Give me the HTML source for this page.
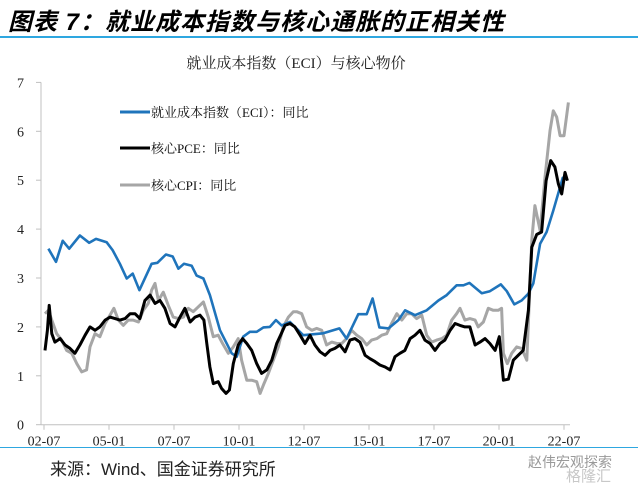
<!DOCTYPE html>
<html><head><meta charset="utf-8">
<style>
body{margin:0;background:#fff;width:638px;height:484px;overflow:hidden;position:relative;font-family:"Liberation Serif","Noto Serif CJK SC",serif;}
#hdr{position:absolute;left:8px;top:2px;font-family:"Liberation Sans","Noto Sans CJK SC",sans-serif;font-weight:bold;font-style:italic;font-size:24px;color:#000;letter-spacing:1px;white-space:nowrap;}
#hl{position:absolute;left:0;top:36px;width:638px;height:2px;background:#2ea7e0;}
#bl{position:absolute;left:0;top:447px;width:638px;height:1px;background:#2ea7e0;}
#src{position:absolute;left:50px;top:455px;font-family:"Liberation Sans","Noto Sans CJK SC",sans-serif;font-size:17px;color:#222;white-space:nowrap;}
#wm{position:absolute;left:528px;top:452px;font-family:"Liberation Sans","Noto Sans CJK SC",sans-serif;font-size:14px;color:#999;white-space:nowrap;}
#wm2{position:absolute;left:566px;top:465px;font-family:"Liberation Sans","Noto Sans CJK SC",sans-serif;font-size:15px;color:#c8c8c8;white-space:nowrap;}
svg{position:absolute;left:0;top:0;}
</style></head><body>
<div id="hdr">图表 7：就业成本指数与核心通胀的正相关性</div>
<div id="hl"></div>
<svg id="chart" width="638" height="484"></svg>
<div id="bl"></div>
<div id="src">来源：Wind、国金证券研究所</div>
<div id="wm">赵伟宏观探索</div>
<div id="wm2">格隆汇</div>
<script>
const yTicks=[0,1,2,3,4,5,6,7];
const xTickLabels=["02-07","05-01","07-07","10-01","12-07","15-01","17-07","20-01","22-07"];
const xTickDates=[2002.5,2005.0,2007.5,2010.0,2012.5,2015.0,2017.5,2020.0,2022.5];
const eciDates=[2002.67,2002.96,2003.22,2003.47,2003.88,2004.24,2004.5,2004.91,2005.14,2005.42,2005.68,2005.91,2006.17,2006.64,2006.86,2007.19,2007.45,2007.67,2007.88,2008.18,2008.37,2008.63,2008.88,2009.27,2009.72,2009.91,2010.16,2010.42,2010.68,2010.94,2011.19,2011.42,2011.64,2011.96,2012.47,2013.24,2013.86,2014.14,2014.59,2014.91,2015.14,2015.4,2015.75,2016.13,2016.39,2016.77,2017.22,2017.67,2017.99,2018.37,2018.63,2018.86,2019.34,2019.65,2020.07,2020.3,2020.59,2020.87,2021.13,2021.32,2021.58,2021.83,2022.09,2022.35,2022.45,2022.58];
const eciValues=[3.6,3.33,3.76,3.6,3.87,3.72,3.8,3.73,3.57,3.29,2.99,3.09,2.75,3.29,3.31,3.48,3.44,3.19,3.29,3.25,3.05,2.99,2.65,1.93,1.46,1.39,1.8,1.9,1.9,1.99,2.0,2.14,2.03,2.1,1.83,1.87,1.97,1.76,2.26,2.26,2.58,1.99,1.97,2.14,2.34,2.24,2.34,2.54,2.65,2.85,2.85,2.9,2.69,2.73,2.87,2.73,2.46,2.54,2.68,2.89,3.7,3.94,4.38,4.86,5.05,5.03];
const pceDates=[2002.54,2002.63,2002.7,2002.8,2002.92,2003.12,2003.31,2003.5,2003.69,2003.88,2004.08,2004.27,2004.46,2004.65,2004.85,2005.04,2005.23,2005.42,2005.62,2005.81,2006.0,2006.19,2006.38,2006.58,2006.77,2006.96,2007.15,2007.35,2007.54,2007.73,2007.92,2008.12,2008.31,2008.5,2008.65,2008.76,2008.88,2009.01,2009.2,2009.33,2009.5,2009.63,2009.78,2009.97,2010.14,2010.3,2010.49,2010.68,2010.87,2011.07,2011.26,2011.45,2011.6,2011.77,2011.96,2012.15,2012.35,2012.54,2012.73,2012.92,2013.12,2013.31,2013.5,2013.69,2013.88,2014.08,2014.27,2014.46,2014.65,2014.85,2015.04,2015.23,2015.42,2015.62,2015.81,2016.0,2016.19,2016.38,2016.58,2016.77,2016.96,2017.15,2017.35,2017.54,2017.73,2017.92,2018.12,2018.31,2018.5,2018.69,2018.88,2019.08,2019.27,2019.46,2019.65,2019.85,2020.01,2020.17,2020.36,2020.55,2020.74,2020.93,2021.13,2021.26,2021.45,2021.64,2021.81,2021.99,2022.15,2022.28,2022.41,2022.54,2022.63];
const pceValues=[1.52,1.93,2.44,1.86,1.69,1.76,1.63,1.56,1.46,1.63,1.83,2.0,1.93,2.0,2.14,2.2,2.17,2.14,2.17,2.27,2.27,2.17,2.54,2.65,2.48,2.54,2.38,2.07,2.0,2.2,2.38,2.1,2.2,2.24,2.14,1.66,1.18,0.84,0.88,0.74,0.64,0.71,1.25,1.63,1.76,1.66,1.52,1.25,1.05,1.12,1.32,1.66,1.83,2.03,2.07,2.0,1.83,1.66,1.83,1.63,1.49,1.42,1.52,1.56,1.63,1.49,1.73,1.76,1.69,1.42,1.35,1.29,1.22,1.18,1.12,1.39,1.46,1.52,1.76,1.83,1.93,1.73,1.66,1.52,1.66,1.73,1.93,2.07,2.03,2.0,2.0,1.63,1.69,1.76,1.66,1.52,1.8,0.91,0.93,1.32,1.42,1.52,2.34,3.63,3.89,3.94,4.99,5.4,5.27,4.93,4.72,5.16,4.99];
const cpiDates=[2002.54,2002.67,2002.8,2002.99,2003.18,2003.37,2003.57,2003.76,2003.95,2004.14,2004.27,2004.46,2004.65,2004.85,2005.04,2005.19,2005.36,2005.55,2005.74,2005.93,2006.13,2006.32,2006.51,2006.64,2006.77,2006.9,2007.09,2007.28,2007.47,2007.67,2007.86,2008.05,2008.24,2008.43,2008.63,2008.82,2009.01,2009.2,2009.37,2009.59,2009.78,2009.97,2010.1,2010.3,2010.49,2010.68,2010.81,2010.96,2011.13,2011.32,2011.51,2011.7,2011.9,2012.09,2012.22,2012.41,2012.6,2012.8,2012.99,2013.18,2013.37,2013.57,2013.76,2013.95,2014.14,2014.33,2014.53,2014.72,2014.91,2015.1,2015.3,2015.49,2015.68,2015.87,2016.07,2016.26,2016.45,2016.64,2016.83,2017.03,2017.22,2017.41,2017.6,2017.8,2017.99,2018.18,2018.37,2018.5,2018.69,2018.88,2019.08,2019.2,2019.4,2019.59,2019.78,2019.97,2020.1,2020.17,2020.32,2020.49,2020.68,2020.87,2021.07,2021.26,2021.38,2021.58,2021.77,2021.96,2022.09,2022.22,2022.35,2022.5,2022.67];
const cpiValues=[2.27,2.34,2.14,1.86,1.73,1.52,1.46,1.25,1.08,1.12,1.59,1.86,1.8,2.07,2.24,2.38,2.14,2.03,2.14,2.14,2.1,2.34,2.48,2.75,2.89,2.54,2.71,2.44,2.2,2.17,2.2,2.38,2.31,2.41,2.51,2.2,1.8,1.83,1.66,1.46,1.59,1.76,1.32,0.91,0.91,0.88,0.64,0.84,1.05,1.32,1.59,2.0,2.2,2.31,2.31,2.27,2.0,1.93,1.97,1.93,1.63,1.69,1.66,1.66,1.76,1.93,1.83,1.76,1.63,1.73,1.76,1.83,1.86,2.07,2.27,2.14,2.27,2.27,2.17,2.24,1.83,1.69,1.73,1.76,1.83,2.14,2.27,2.38,2.14,2.17,2.14,2.0,2.1,2.38,2.34,2.34,2.38,1.46,1.25,1.46,1.59,1.56,1.32,3.77,4.48,3.97,5.06,6.01,6.42,6.29,5.91,5.91,6.59];

const NS="http://www.w3.org/2000/svg";
const svg=document.getElementById('chart');
const X0=44,PXY=26,T0=2002.5,Y0=424.7,PXV=48.9,AXL=41,AXR=570;
function xs(t){return X0+(t-T0)*PXY;}
function ys(v){return Y0-v*PXV;}
function mk(tag,attrs){const e=document.createElementNS(NS,tag);for(const k in attrs)e.setAttribute(k,attrs[k]);svg.appendChild(e);return e;}

const title=mk('text',{x:296,y:68,'text-anchor':'middle','font-size':15,fill:'#222','font-family':'"Liberation Serif","Noto Serif CJK SC",serif'});
title.textContent='就业成本指数（ECI）与核心物价';



const ya=mk('line',{x1:AXL,y1:ys(7),x2:AXL,y2:Y0,stroke:'#c0c0c0','stroke-width':1});


yTicks.forEach(v=>{
  const tk=mk('line',{x1:AXL-5,y1:ys(v),x2:AXL,y2:ys(v),stroke:'#c0c0c0','stroke-width':1});
  
  
  const tl=mk('text',{x:24,y:ys(v)+5,'text-anchor':'end','font-size':14,fill:'#222'});
  tl.textContent=String(v);
  
  
});
const xa=mk('line',{x1:AXL,y1:Y0,x2:AXR,y2:Y0,stroke:'#c0c0c0','stroke-width':1});


xTickDates.forEach((t,i)=>{
  const tk=mk('line',{x1:xs(t),y1:Y0,x2:xs(t),y2:Y0+5,stroke:'#c0c0c0','stroke-width':1});
  
  
  const tl=mk('text',{x:xs(t),y:Y0+21,'text-anchor':'middle','font-size':14,fill:'#222'});
  tl.textContent=xTickLabels[i];
  
  
});
function series(d,v,color,w,name){
  const pts=d.map((t,i)=>xs(t).toFixed(1)+','+ys(v[i]).toFixed(1)).join(' ');
  const p=mk('polyline',{points:pts,fill:'none',stroke:color,'stroke-width':w,'stroke-linejoin':'round'});
  
  
}
series(cpiDates,cpiValues,'#a6a6a6',3,'core-cpi-line');
series(eciDates,eciValues,'#1f74bb',2.6,'eci-line');
series(pceDates,pceValues,'#000000',3,'core-pce-line');

const legend=[['#1f74bb','就业成本指数（ECI）：同比',112,'legend-eci'],['#000000','核心PCE：同比',148,'legend-core-pce'],['#a6a6a6','核心CPI：同比',185,'legend-core-cpi']];
legend.forEach(l=>{
  const ln=mk('line',{x1:120,y1:l[2],x2:150,y2:l[2],stroke:l[0],'stroke-width':3});
  
  
  const tx=mk('text',{x:151,y:l[2]+5,'font-size':13,fill:'#111'});
  tx.textContent=l[1];
  
  
});
</script>
</body></html>
